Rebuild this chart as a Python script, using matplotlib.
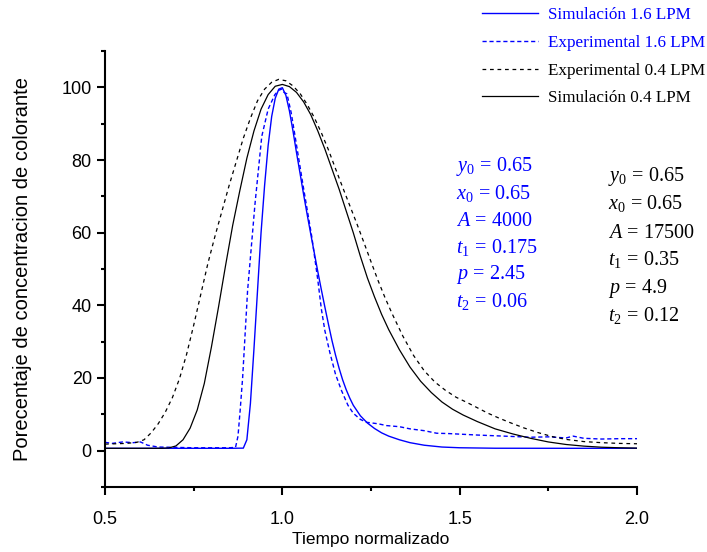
import matplotlib
matplotlib.use('Agg')
import matplotlib.pyplot as plt

# Simulación 1.6 LPM (blue solid)
sim16_x = [0.5, 0.6, 0.7, 0.8, 0.85, 0.89, 0.9, 0.91, 0.92, 0.93, 0.94, 0.95, 0.96, 0.97,
           0.98, 0.99, 1.0, 1.01, 1.02, 1.03, 1.04, 1.05, 1.06, 1.07, 1.08, 1.09, 1.1,
           1.11, 1.12, 1.13, 1.14, 1.15, 1.16, 1.17, 1.18, 1.19, 1.2, 1.22, 1.24, 1.26,
           1.28, 1.3, 1.33, 1.36, 1.4, 1.45, 1.5, 1.6, 1.8, 2.0]
sim16_y = [0.65, 0.65, 0.65, 0.65, 0.65, 0.7, 3, 13, 28, 44, 60, 73, 84, 92,
           97, 99.5, 99.9, 97.8, 93.5, 88, 82, 76.3, 70.5, 65, 59.7, 54.5, 49.3,
           44.3, 39.5, 34.8, 30.3, 26.3, 22.7, 19.5, 16.8, 14.5, 12.5, 9.6, 7.6, 6.1,
           4.9, 4.0, 3.0, 2.2, 1.5, 1.0, 0.8, 0.67, 0.65, 0.65]

# Experimental 1.6 LPM (blue dashed)
exp16_x = [0.5, 0.52, 0.55, 0.58, 0.6, 0.62, 0.65, 0.7, 0.75, 0.8, 0.85, 0.868, 0.875,
           0.881, 0.888, 0.895, 0.902, 0.909, 0.923, 0.942, 0.96, 0.979, 0.99, 0.998,
           1.005, 1.013, 1.025, 1.036, 1.059, 1.083, 1.09, 1.1, 1.11, 1.12, 1.134, 1.15,
           1.167, 1.185, 1.2, 1.22, 1.238, 1.27, 1.294, 1.33, 1.36, 1.4, 1.435, 1.47,
           1.51, 1.55, 1.6, 1.65, 1.7, 1.75, 1.8, 1.82, 1.85, 1.9, 1.95, 2.0]
exp16_y = [2.3, 2.0, 2.4, 2.2, 2.4, 1.5, 1.0, 0.9, 0.8, 0.8, 0.8, 0.9, 4,
           11, 20, 32, 44, 52, 68, 86.5, 94, 98, 99.2, 99.5,
           98.6, 98.2, 93, 86.5, 72.7, 58.9, 54, 47, 39, 33, 27, 21,
           16.5, 12.5, 10.3, 8.6, 7.8, 7.4, 6.9, 6.6, 6.0, 5.5, 4.8, 4.7,
           4.5, 4.3, 4.1, 3.9, 3.7, 3.8, 3.5, 4.0, 3.4, 3.2, 3.3, 3.3]

# Experimental 0.4 LPM (black dashed)
exp04_x = [0.5, 0.53, 0.56, 0.59, 0.61, 0.63, 0.65, 0.67, 0.69, 0.71, 0.73, 0.75, 0.77,
           0.79, 0.81, 0.83, 0.85, 0.87, 0.89, 0.91, 0.93, 0.95, 0.97, 0.99, 1.01, 1.03,
           1.05, 1.07, 1.09, 1.11, 1.13, 1.15, 1.17, 1.19, 1.21, 1.23, 1.25, 1.27, 1.29,
           1.31, 1.34, 1.37, 1.4, 1.43, 1.46, 1.49, 1.52, 1.55, 1.58, 1.61, 1.64, 1.68,
           1.72, 1.76, 1.8, 1.85, 1.9, 1.95, 2.0]
exp04_y = [1.8, 1.9, 2.0, 2.3, 3.0, 4.9, 7.4, 10.6, 14.6, 19.8, 26.5, 34.5, 43,
           51.5, 59, 66, 73, 79.5, 86, 91.5, 96.3, 99.5, 101.4, 102.2, 101.8, 100.4,
           98.3, 95.3, 91.7, 87.5, 82.8, 77.6, 72.5, 67.5, 62.5, 57.3, 52.0, 46.8, 42,
           37.6, 31.5, 26.2, 22, 18.9, 16.6, 14.7, 13.3, 11.8, 10.3, 9.0, 7.8, 6.3,
           5.0, 3.9, 3.1, 2.5, 2.2, 2.0, 1.9]

# Simulación 0.4 LPM (black solid)
sim04_x = [0.5, 0.6, 0.66, 0.68, 0.7, 0.72, 0.74, 0.76, 0.78, 0.8, 0.82, 0.84, 0.86,
           0.88, 0.9, 0.92, 0.94, 0.96, 0.98, 1.0, 1.02, 1.04, 1.06, 1.08, 1.1, 1.12,
           1.14, 1.16, 1.18, 1.2, 1.22, 1.24, 1.26, 1.28, 1.3, 1.33, 1.36, 1.39, 1.42,
           1.45, 1.48, 1.51, 1.55, 1.6, 1.65, 1.7, 1.75, 1.8, 1.85, 1.9, 1.95, 2.0]
sim04_y = [0.65, 0.65, 0.66, 0.75, 1.3, 3.0, 6.2, 11.2, 18.5, 28.5, 39.5, 51, 62,
           71.5, 80.5, 88, 94, 98, 100.3, 100.8, 100.2, 98.6, 96, 92.5, 88, 83,
           77.5, 72, 66, 60, 53.5, 47.5, 42.3, 37.5, 33.3, 27.8, 23, 19.1, 16,
           13.4, 11.4, 9.8, 8.0, 6.0, 4.6, 3.4, 2.4, 1.7, 1.25, 0.95, 0.8, 0.7]

params_16 = [r'$y_0\,=\,0.65$', r'$x_0\,=\,0.65$', r'$A\,=\,4000$',
             r'$t_1\,=\,0.175$', r'$p\,=\,2.45$', r'$t_2\,=\,0.06$']
params_04 = [r'$y_0\,=\,0.65$', r'$x_0\,=\,0.65$', r'$A\,=\,17500$',
             r'$t_1\,=\,0.35$', r'$p\,=\,4.9$', r'$t_2\,=\,0.12$']

BLUE = '#0000ff'

plt.rcParams['mathtext.fontset'] = 'custom'
plt.rcParams['mathtext.rm'] = 'Liberation Serif'
plt.rcParams['mathtext.it'] = 'Liberation Serif:italic'
plt.rcParams['font.family'] = 'Liberation Sans'

fig = plt.figure(figsize=(7.07, 5.52), dpi=100)
ax = fig.add_axes([105 / 707, 1 - 487 / 552, 532 / 707, 436 / 552])

l1, = ax.plot(sim16_x, sim16_y, color=BLUE, lw=1.0)
l2, = ax.plot(exp16_x, exp16_y, color=BLUE, lw=1.0, ls=(0, (3, 2)))
l3, = ax.plot(exp04_x, exp04_y, color='black', lw=0.9, ls=(0, (3, 3)))
l4, = ax.plot(sim04_x, sim04_y, color='black', lw=0.9)

ax.set_xlim(0.5, 2.0)
ax.set_ylim(-10, 110)
ax.set_xticks([0.5, 1.0, 1.5, 2.0])
ax.set_xticks([0.75, 1.25, 1.75], minor=True)
ax.set_yticks([0, 20, 40, 60, 80, 100])
ax.set_yticks([-10, 10, 30, 50, 70, 90, 110], minor=True)

for side in ['top', 'right']:
    ax.spines[side].set_visible(False)
for side in ['left', 'bottom']:
    ax.spines[side].set_linewidth(1.5)
ax.tick_params(which='major', direction='out', length=6, width=1.5, labelsize=13)
ax.tick_params(which='minor', direction='out', length=3, width=1.5)
ax.tick_params(axis='x', which='major', pad=11)

ax.set_xlabel('Tiempo normalizado', fontsize=12.5)
ax.xaxis.set_label_coords(0.5, (487 - 532) / 436)
ax.set_ylabel('Porecentaje de concentracion de colorante', fontsize=14.5)
ax.yaxis.set_label_coords((32 - 105) / 532, 0.5)

leg = fig.legend([l1, l2, l3, l4],
                 ['Simulación 1.6 LPM', 'Experimental 1.6 LPM',
                  'Experimental 0.4 LPM', 'Simulación 0.4 LPM'],
                 loc='upper left', bbox_to_anchor=(482 / 707, 1 - 7 / 552),
                 frameon=False, prop={'family': 'Liberation Serif', 'size': 12.3},
                 handlelength=3.3, handletextpad=0.55, labelspacing=0.69,
                 borderaxespad=0, borderpad=0)
for txt, c in zip(leg.get_texts(), [BLUE, BLUE, 'black', 'black']):
    txt.set_color(c)

for i, s in enumerate(params_16):
    fig.text(456 / 707, 1 - (167 + 27 * i) / 552, s, color=BLUE, fontsize=14.5,
             va='center', ha='left')
for i, s in enumerate(params_04):
    fig.text(608 / 707, 1 - (176 + 28 * i) / 552, s, color='black', fontsize=14.5,
             va='center', ha='left')

fig.savefig('out.png', dpi=100)
